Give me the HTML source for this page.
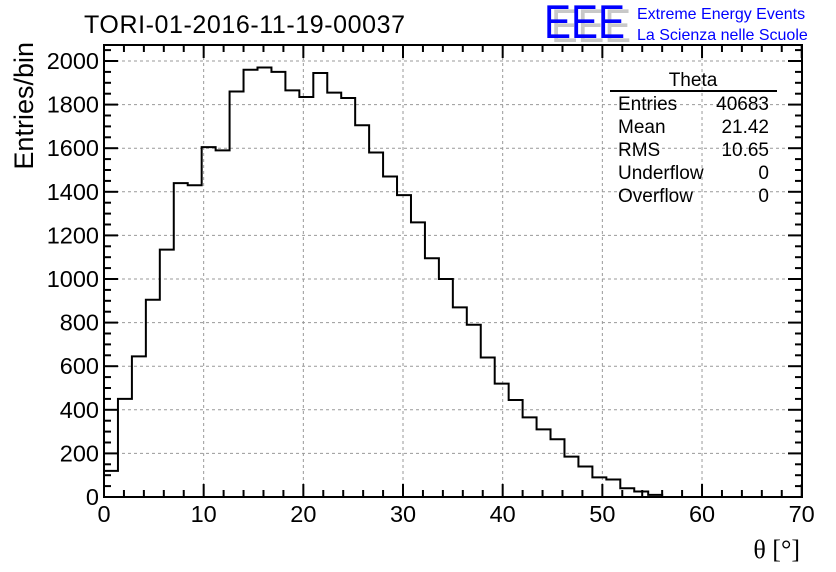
<!DOCTYPE html>
<html><head><meta charset="utf-8"><style>
html,body{margin:0;padding:0;background:#fff;}
svg{display:block;font-family:"Liberation Sans",sans-serif;}
</style></head><body>
<svg id="s" width="836" height="572" xmlns="http://www.w3.org/2000/svg">
<rect width="836" height="572" fill="#fff"/>
<g id="grid" stroke="#999" stroke-width="1" stroke-dasharray="3,3"></g>
<path id="h" fill="none" stroke="#000" stroke-width="2"/>
<g id="ax" stroke="#000" stroke-width="2"></g>
<rect x="104" y="45" width="698" height="452" fill="none" stroke="#000" stroke-width="2"/>
<g id="lab" font-size="23.5" fill="#000"></g>
<text x="84" y="33" font-size="25" textLength="321">TORI-01-2016-11-19-00037</text>
<text transform="translate(33,42) rotate(-90)" text-anchor="end" font-size="27">Entries/bin</text>
<text x="800" y="558" text-anchor="end" font-size="26" font-family="Liberation Serif,serif">θ [°]</text>
<g font-size="19">
<text x="693" y="86" text-anchor="middle">Theta</text>
<line x1="610" y1="91" x2="777" y2="91" stroke="#000" stroke-width="2"/>
<text x="618" y="110">Entries</text><text x="769" y="110" text-anchor="end">40683</text>
<text x="618" y="133">Mean</text><text x="769" y="133" text-anchor="end">21.42</text>
<text x="618" y="156">RMS</text><text x="769" y="156" text-anchor="end">10.65</text>
<text x="618" y="179">Underflow</text><text x="769" y="179" text-anchor="end">0</text>
<text x="618" y="202">Overflow</text><text x="769" y="202" text-anchor="end">0</text>
</g>
<text x="551" y="42" font-size="47" fill="#c8c8c8" textLength="80" lengthAdjust="spacingAndGlyphs">EEE</text>
<text x="544" y="38" font-size="47" fill="#0000ff" textLength="81" lengthAdjust="spacingAndGlyphs">EEE</text>
<text x="637" y="19" font-size="16" fill="#0000ff">Extreme Energy Events</text>
<text x="637" y="40" font-size="16" fill="#0000ff">La Scienza nelle Scuole</text>
</svg>
<script>
var v=[120,450,645,905,1135,1440,1430,1605,1590,1860,1960,1970,1950,1865,1835,1945,1855,1830,1705,1580,1470,1385,1260,1095,1000,870,790,640,520,445,365,310,265,185,140,90,80,40,25,10];
function X(t){return 104+t*9.967;}function Y(c){return 497-c*0.218;}
var d="M"+X(0)+","+Y(0);
for(var i=0;i<v.length;i++){d+=" L"+X(i*1.4)+","+Y(v[i])+" L"+X((i+1)*1.4)+","+Y(v[i]);}
d+=" L"+X(v.length*1.4)+","+Y(0);
document.getElementById('h').setAttribute('d',d);
var ns="http://www.w3.org/2000/svg";
function el(p,n,a,txt){var e=document.createElementNS(ns,n);for(var k in a)e.setAttribute(k,a[k]);if(txt!==undefined)e.textContent=txt;p.appendChild(e);}
var g=document.getElementById('grid'),ax=document.getElementById('ax'),lab=document.getElementById('lab');
for(var t=10;t<70;t+=10)el(g,'line',{x1:X(t),y1:45,x2:X(t),y2:497});
for(var c=200;c<=2000;c+=200)el(g,'line',{x1:104,y1:Y(c),x2:802,y2:Y(c)});
for(var t=0;t<=70;t+=2){var L=(t%10==0)?13:7;el(ax,'line',{x1:X(t),y1:497,x2:X(t),y2:497-L});el(ax,'line',{x1:X(t),y1:45,x2:X(t),y2:45+L});}
for(var c=0;c<=2050;c+=50){var L=(c%200==0)?14:7;el(ax,'line',{x1:104,y1:Y(c),x2:104+L,y2:Y(c)});el(ax,'line',{x1:802,y1:Y(c),x2:802-L,y2:Y(c)});}
for(var t=0;t<=70;t+=10)el(lab,'text',{x:X(t),y:522,'text-anchor':'middle'},String(t));
for(var c=0;c<=2000;c+=200)el(lab,'text',{x:99,y:Y(c)+8,'text-anchor':'end'},String(c));
</script>
</body></html>
